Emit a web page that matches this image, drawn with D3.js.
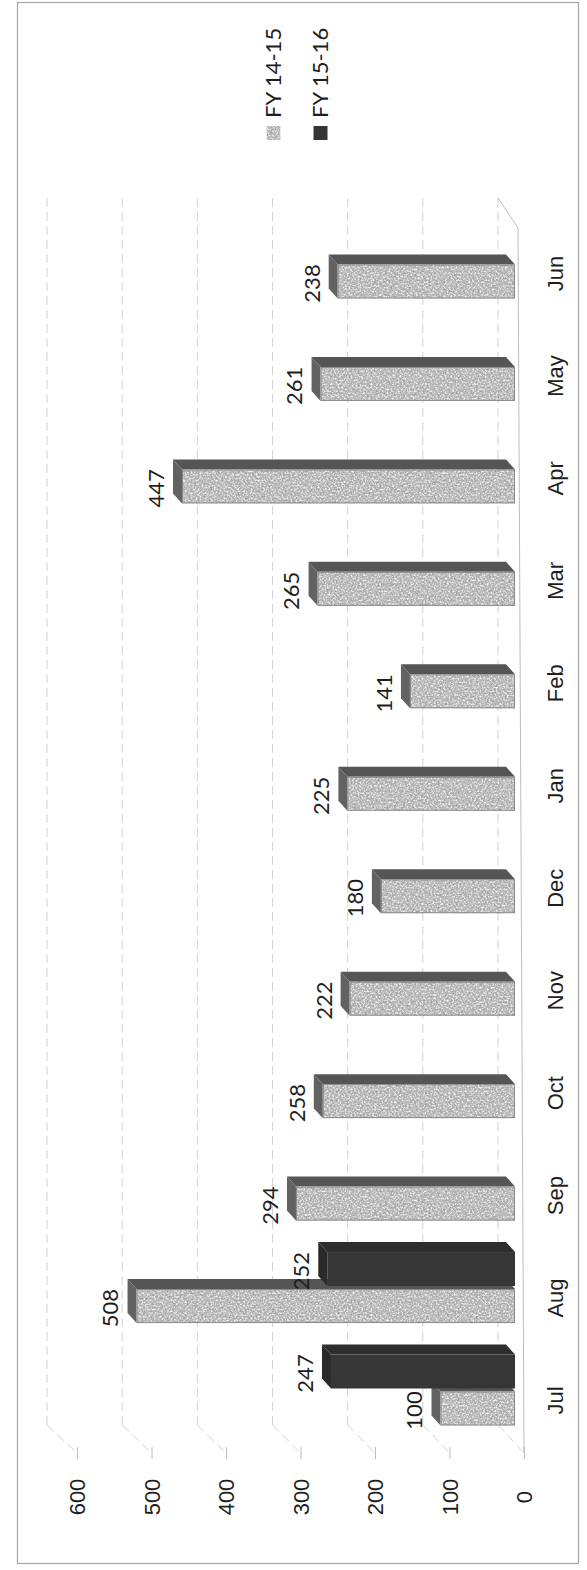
<!DOCTYPE html>
<html>
<head>
<meta charset="utf-8">
<script src="https://cdn.jsdelivr.net/npm/d3@7"></script>
<style>
  html, body { margin: 0; padding: 0; background: #fff; }
  svg { display: block; font-family: Lato, "Open Sans", "Liberation Sans", sans-serif; }
</style>
</head>
<body>
<script>
// Monthly counts, FY 14-15 vs FY 15-16 (3D clustered columns, turned on its side)
const months = ["Jul", "Aug", "Sep", "Oct", "Nov", "Dec", "Jan", "Feb", "Mar", "Apr", "May", "Jun"];
const seriesNames = ["FY 14-15", "FY 15-16"];
const fy1415 = [100, 508, 294, 258, 222, 180, 225, 141, 265, 447, 261, 238];
const fy1516 = [247, 252];           // only Jul and Aug reported so far
const valueTicks = [0, 100, 200, 300, 400, 500, 600];

const W = 587, H = 1570;
const svg = d3.select("body").append("svg").attr("width", W).attr("height", H);

// ---- granite texture for the light series ----
const defs = svg.append("defs");
const f = defs.append("filter").attr("id", "granite")
  .attr("x", 0).attr("y", 0).attr("width", 1).attr("height", 1);
f.append("feTurbulence").attr("type", "fractalNoise").attr("baseFrequency", 0.55)
  .attr("numOctaves", 2).attr("seed", 7).attr("result", "noise");
f.append("feColorMatrix").attr("in", "noise").attr("type", "matrix")
  .attr("values", "0 0 0 0 0.35  0 0 0 0 0.35  0 0 0 0 0.35  3.2 0 0 0 -1.45").attr("result", "darkSpk");
f.append("feColorMatrix").attr("in", "noise").attr("type", "matrix")
  .attr("values", "0 0 0 0 1  0 0 0 0 1  0 0 0 0 1  -3.2 0 0 0 1.5").attr("result", "lightSpk");
const m = f.append("feMerge").attr("result", "merged");
m.append("feMergeNode").attr("in", "SourceGraphic");
m.append("feMergeNode").attr("in", "darkSpk");
m.append("feMergeNode").attr("in", "lightSpk");
f.append("feComposite").attr("in", "merged").attr("in2", "SourceGraphic").attr("operator", "in");

// ---- scales ----
const xFront = d3.scaleLinear().domain([0, 600]).range([524, 77]);   // value axis on the front edge
const xBack  = d3.scaleLinear().domain([0, 600]).range([498, 47]);   // same values on the back wall
const yCat   = d3.scalePoint().domain(months).range([1400, 273]);    // category positions (front plane)
const ySer   = d3.scalePoint().domain(seriesNames).range([18.5, -18.5]); // offset inside a category

const depth = { dx: 9, dy: 10 };   // one step back into the chart
const barH = 34;
const wallTop = 198, wallBottom = 1425, frontTop = 228, frontBottom = 1453;

// ---- outer frame ----
svg.append("rect").attr("x", 17.5).attr("y", 2.5).attr("width", 561).attr("height", 1561)
  .attr("fill", "none").attr("stroke", "#a6a6a6").attr("stroke-width", 1.2);

// ---- back wall gridlines ----
const grid = svg.append("g").attr("stroke", "#d2d2d2").attr("stroke-width", 1)
  .attr("stroke-dasharray", "9,5").attr("fill", "none");
grid.selectAll("line.back").data(valueTicks).join("line").attr("class", "back")
  .attr("x1", d => xBack(d)).attr("x2", d => xBack(d))
  .attr("y1", wallTop).attr("y2", wallBottom);
// gridlines running across the side wall to the front edge
grid.selectAll("line.side").data(valueTicks).join("line").attr("class", "side")
  .attr("x1", d => xBack(d)).attr("y1", wallBottom)
  .attr("x2", d => xFront(d)).attr("y2", frontBottom);

// floor edges
const edges = svg.append("g").attr("stroke", "#bdbdbd").attr("stroke-width", 1).attr("fill", "none");
edges.append("line").attr("x1", xBack(0)).attr("y1", wallTop).attr("x2", xFront(0) - 6).attr("y2", frontTop);
edges.append("line").attr("x1", xFront(0) - 6).attr("y1", frontTop).attr("x2", xFront(0)).attr("y2", frontBottom);

// ---- value axis (front) ----
const vAxis = svg.append("g").attr("transform", `translate(0,${frontBottom - 6})`)
  .call(d3.axisBottom(xFront).tickValues(valueTicks).tickSize(12).tickFormat(d3.format("d")));
vAxis.select(".domain").remove();
vAxis.selectAll(".tick line").attr("stroke", "#bcbcbc");
vAxis.selectAll(".tick text")
  .attr("x", 0).attr("y", 0).attr("dy", "0.36em")
  .attr("transform", "translate(0,50) rotate(-90)")
  .attr("text-anchor", "middle")
  .attr("font-size", 22).attr("fill", "#1e1e1e");

// ---- category axis ----
const cAxis = svg.append("g").attr("transform", `translate(${xFront(0)},0)`)
  .call(d3.axisRight(yCat).tickSize(0));
cAxis.select(".domain").remove();
cAxis.selectAll(".tick text")
  .attr("x", 0).attr("y", 0).attr("dy", "0.36em")
  .attr("transform", "translate(31,0) rotate(-90)")
  .attr("text-anchor", "middle")
  .attr("font-size", 22).attr("fill", "#1e1e1e");

// ---- bars ----
const bars = [];
months.forEach((mo, i) => {
  bars.push({ month: mo, series: seriesNames[0], value: fy1415[i] });
  if (fy1516[i] != null) bars.push({ month: mo, series: seriesNames[1], value: fy1516[i] });
});

const style = {
  "FY 14-15": { face: "#c2c2c2", top: "#626262", side: "#555555", textured: true },
  "FY 15-16": { face: "#363636", top: "#2a2a2a", side: "#2e2e2e", textured: false }
};

const gBars = svg.append("g");
bars.forEach(b => {
  const s = style[b.series];
  const cy = yCat(b.month) - depth.dy + ySer(b.series);  // centre of the front face
  const x0 = xFront(0) - depth.dx;                         // base
  const xv = xFront(b.value) - depth.dx;                   // end of the bar
  const yt = cy - barH / 2, yb = cy + barH / 2;
  const g = gBars.append("g");
  // side face (strip above the front face)
  g.append("polygon")
    .attr("points", [[xv, yt], [x0, yt], [x0 - depth.dx, yt - depth.dy], [xv - depth.dx, yt - depth.dy]].join(" "))
    .attr("fill", s.side);
  // end cap
  g.append("polygon")
    .attr("points", [[xv, yt], [xv, yb], [xv - depth.dx, yb - depth.dy], [xv - depth.dx, yt - depth.dy]].join(" "))
    .attr("fill", s.top);
  // front face
  const face = g.append("rect")
    .attr("x", xv).attr("y", yt).attr("width", x0 - xv).attr("height", barH)
    .attr("fill", s.face);
  if (s.textured) {
    face.attr("filter", "url(#granite)");
    g.append("rect").attr("x", xv + 0.5).attr("y", yt + 0.5).attr("width", x0 - xv - 1).attr("height", barH - 1)
      .attr("fill", "none").attr("stroke", "#8a8a8a").attr("stroke-width", 1);
  }
  // value label
  g.append("text")
    .attr("transform", `translate(${xv - 26},${cy + 2}) rotate(-90)`)
    .attr("text-anchor", "middle").attr("dy", "0.36em")
    .attr("font-size", 22).attr("fill", "#1e1e1e")
    .text(b.value);
});

// ---- legend ----
const xLeg = d3.scalePoint().domain(seriesNames).range([273.5, 320.5]);
const leg = svg.append("g").selectAll("g").data(seriesNames).join("g");
leg.append("rect")
  .attr("x", d => xLeg(d) - 7).attr("y", 126).attr("width", 14).attr("height", 14)
  .attr("fill", d => style[d].face)
  .attr("filter", d => style[d].textured ? "url(#granite)" : null);
leg.append("text")
  .attr("transform", d => `translate(${xLeg(d)},118) rotate(-90)`)
  .attr("text-anchor", "start").attr("dy", "0.36em")
  .attr("font-size", 22).attr("fill", "#1e1e1e")
  .text(d => d);
</script>
</body>
</html>
